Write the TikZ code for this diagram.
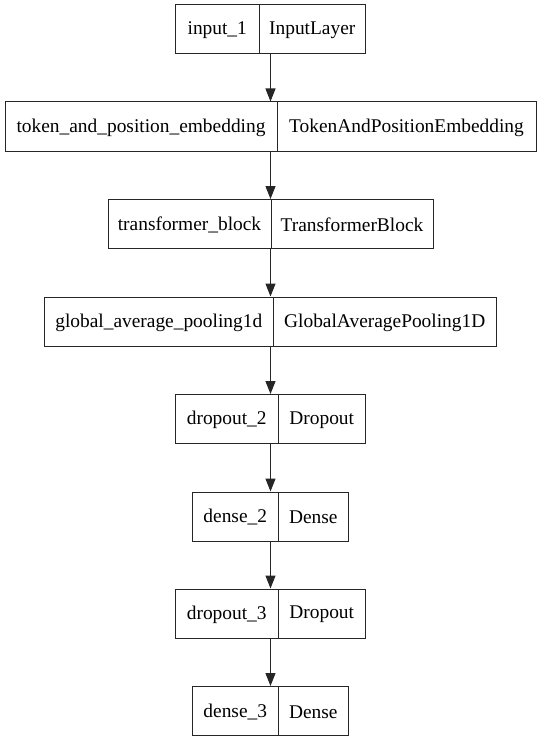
\documentclass[tikz,border=0pt]{standalone}
\usepackage{fontspec}
\setmainfont{Liberation Serif}
\usetikzlibrary{arrows.meta}
\begin{document}
\begin{tikzpicture}[x=1pt,y=-1pt,
  rec/.style={draw=black!85, line width=1pt, inner sep=0pt, minimum height=49pt},
  lbl/.style={inner sep=0pt, font=\fontsize{19.4}{21}\selectfont, anchor=center},
  divl/.style={draw=black!85, line width=1pt},
  conn/.style={draw=black!85, line width=1.1pt, -{Triangle[length=13pt,width=10pt]}}]
\useasboundingbox (0,0) rectangle (540,741);
% box helper: name, left, right, divider, top, left text, right text
\newcommand{\mybox}[7]{%
  \node[rec, minimum width={(#3-#2)*1pt}] (#1) at ({(#2+#3)/2},{#5+24.5}) {};
  \draw[divl] (#4,#5) -- (#4,#5+49);
  \node[lbl] (#1l) at ({(#2+#4)/2},{#5+25.5}) {#6};
  \node[lbl] (#1r) at ({(#4+#3)/2},{#5+25.5}) {#7};
}
\mybox{b1}{175.5}{365.5}{259}{5}{input\_1}{InputLayer}
\mybox{b2}{5}{536}{277}{102}{token\_and\_position\_embedding}{TokenAndPositionEmbedding}
\mybox{b3}{108}{433}{271}{199.5}{transformer\_block}{TransformerBlock}
\mybox{b4}{44.5}{496.5}{273}{297}{global\_average\_pooling1d}{GlobalAveragePooling1D}
\mybox{b5}{175.5}{365.5}{278}{394.5}{dropout\_2}{Dropout}
\mybox{b6}{192.5}{348.5}{278}{492}{dense\_2}{Dense}
\mybox{b7}{175.5}{365.5}{278}{589}{dropout\_3}{Dropout}
\mybox{b8}{192.5}{348.5}{278}{686.5}{dense\_3}{Dense}
\foreach \a/\b in {b1/b2,b2/b3,b3/b4,b4/b5,b5/b6,b6/b7,b7/b8}{
  \draw[conn] (\a.south) -- (\b.north);
}
\end{tikzpicture}
\end{document}
